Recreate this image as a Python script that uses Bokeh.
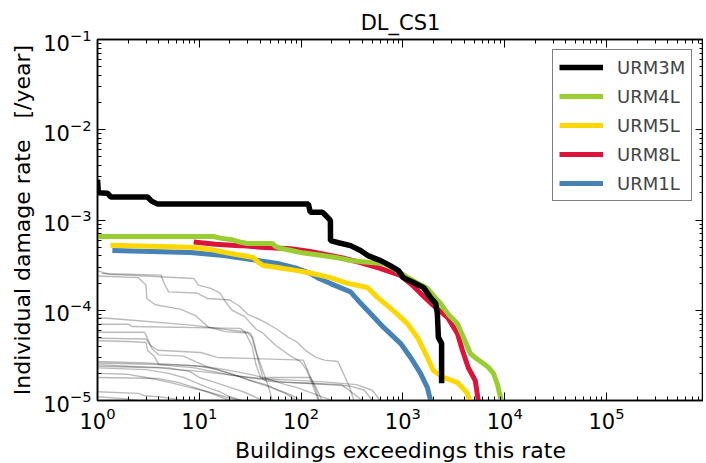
from bokeh.plotting import figure
from bokeh.models import LogAxis, FixedTicker, LogTickFormatter, CustomJSTickFormatter, Legend, LegendItem, Range1d
from bokeh.embed import file_html
from bokeh.resources import INLINE

# ---------------- data ----------------
title_text = "DL_CS1"
x_label = "Buildings exceedings this rate"
y_label = "Individual damage rate \u00a0 [/year]"

x_lim = (1.0, 8.97e5)
y_lim = (1e-5, 1e-1)
x_decades = [0, 1, 2, 3, 4, 5]
y_decades = [-5, -4, -3, -2, -1]

urm3m_x = [1.0, 1.02, 1.25, 1.35, 3.1, 3.4, 3.9, 118, 123, 162, 178, 194, 194.5, 233, 306, 383, 460, 605, 758, 906, 1010, 1270, 1600, 1870, 2100, 2180, 2230, 2400, 2400]
urm3m_y = [2.8e-3, 2.0e-3, 1.98e-3, 1.8e-3, 1.8e-3, 1.62e-3, 1.5e-3, 1.5e-3, 1.22e-3, 1.22e-3, 1.1e-3, 9.9e-4, 5.9e-4, 5.6e-4, 5.2e-4, 4.6e-4, 4.0e-4, 3.55e-4, 3.1e-4, 2.75e-4, 2.3e-4, 2.03e-4, 1.78e-4, 1.38e-4, 1.19e-4, 9.2e-5, 5.0e-5, 4.3e-5, 1.55e-5]

urm4l_x = [1.0, 13.8, 16, 21.7, 25, 29.7, 52, 56, 62.8, 80, 106, 150, 220, 306, 450, 646, 850, 1110, 1400, 1740, 2000, 2340, 2800, 3440, 4000, 4610, 5300, 6180, 7000, 7770, 8500, 9100, 9300]
urm4l_y = [6.56e-4, 6.56e-4, 6.3e-4, 6.0e-4, 5.7e-4, 5.5e-4, 5.5e-4, 5.1e-4, 4.85e-4, 4.6e-4, 4.3e-4, 4.1e-4, 3.85e-4, 3.56e-4, 3.4e-4, 3.3e-4, 2.8e-4, 2.31e-4, 2.0e-4, 1.74e-4, 1.45e-4, 1.19e-4, 9.0e-5, 7.1e-5, 4.8e-5, 3.3e-5, 2.9e-5, 2.57e-5, 2.3e-5, 1.99e-5, 1.5e-5, 1.08e-5, 1.0e-5]

urm5l_x = [1.34, 8.2, 12.9, 20.3, 34, 38, 42.7, 58.6, 92, 130, 194, 286, 448, 563, 806, 1110, 1390, 1740, 1990, 2500, 3440, 4310, 4510]
urm5l_y = [5.25e-4, 5.0e-4, 4.71e-4, 4.26e-4, 3.85e-4, 3.4e-4, 3.13e-4, 2.98e-4, 2.75e-4, 2.55e-4, 2.3e-4, 1.99e-4, 1.79e-4, 1.39e-4, 9.9e-5, 7.1e-5, 5.0e-5, 3.0e-5, 2.15e-5, 1.8e-5, 1.58e-5, 1.2e-5, 1.0e-5]

urm8l_x = [8.8, 14.4, 25, 40, 78.7, 123, 244, 383, 605, 947, 1200, 1490, 1990, 2750, 3440, 3850, 4380, 5140, 5500]
urm8l_y = [5.7e-4, 5.4e-4, 5.2e-4, 5.0e-4, 4.8e-4, 4.47e-4, 3.84e-4, 3.38e-4, 2.9e-4, 2.43e-4, 1.95e-4, 1.54e-4, 1.13e-4, 8.3e-5, 5.5e-5, 3.58e-5, 2.32e-5, 1.66e-5, 1.0e-5]

urm1l_x = [1.4, 8.2, 17.3, 37.3, 58.6, 92, 123, 150, 200, 306, 383, 480, 646, 947, 1190, 1490, 1740, 1870]
urm1l_y = [4.6e-4, 4.36e-4, 4.04e-4, 3.56e-4, 3.3e-4, 2.9e-4, 2.56e-4, 2.25e-4, 1.95e-4, 1.6e-4, 1.2e-4, 9.2e-5, 6.45e-5, 4.3e-5, 3.0e-5, 2.0e-5, 1.39e-5, 1.0e-5]

# background (grey) typologies
gray_x = [
    [1, 1.3, 3, 8.8, 9.8, 13, 16, 18, 21, 28, 36, 42, 56, 79, 99, 113, 129, 148],
    [1, 2.5, 3, 3.05, 3.7, 6.5, 9.2, 12.3, 18, 30, 33.5, 36.5, 39, 42, 48, 52],
    [1.1, 4.2, 4.6, 5.0, 9.5, 12, 20, 25, 30, 38, 48, 60, 75, 90, 110, 140, 170, 230, 260, 300, 330],
    [1, 2, 2.2, 25, 28, 33, 36, 40, 45, 60, 120, 250, 400],
    [1, 2.9, 3.0, 3.4, 4.0, 7, 9.2, 11.5, 20, 30, 50, 70, 90],
    [1, 2, 3, 3.1, 3.6, 4.0, 9, 12, 17, 21, 40, 110, 180, 350, 500, 600],
    [1, 3, 6, 10, 15, 20, 30, 45, 60, 80, 100],
    [1, 2, 4, 8, 12, 18, 25, 35, 50, 70, 90, 130, 200],
    [1, 2, 5, 8, 10, 14, 20, 27, 35, 42],
    [1, 3, 5, 7, 9, 12, 16, 20, 26],
    [1, 2, 4, 6, 10, 15, 22, 30, 45, 70, 110, 180, 300, 420, 500],
    [1, 2, 3, 5, 8, 12, 18, 25],
    [1, 4, 6, 8, 12, 16, 20],
    [1, 2.5, 3, 4, 5.5, 7],
    [1, 1.8, 2.5],
    [1, 1.8, 8.8, 30, 32, 37, 42, 124, 140, 160],
    [1, 3, 3.3, 3.9, 10.3, 15, 105, 124, 140, 150],
]
gray_y = [
    [2.75e-4, 2.5e-4, 2.4e-4, 2.25e-4, 1.9e-4, 1.75e-4, 1.55e-4, 1.25e-4, 1.0e-4, 8.5e-5, 6.2e-5, 5.6e-5, 4.1e-5, 3.1e-5, 2.7e-5, 2.2e-5, 1.5e-5, 1.0e-5],
    [2.4e-4, 2.3e-4, 1.9e-4, 1.35e-4, 1.15e-4, 1.03e-4, 8.7e-5, 6.5e-5, 5.8e-5, 5.6e-5, 5.0e-5, 3.4e-5, 2.7e-5, 2.15e-5, 1.4e-5, 1.0e-5],
    [2.55e-4, 2.45e-4, 1.9e-4, 1.6e-4, 1.55e-4, 1.35e-4, 1.3e-4, 1.1e-4, 9.0e-5, 8.0e-5, 7.0e-5, 6.0e-5, 5.0e-5, 4.5e-5, 3.6e-5, 3.0e-5, 2.8e-5, 2.7e-5, 2.0e-5, 1.4e-5, 1.0e-5],
    [7.0e-5, 7.0e-5, 6.6e-5, 6.3e-5, 5.8e-5, 4.0e-5, 2.5e-5, 1.8e-5, 1.65e-5, 1.6e-5, 1.55e-5, 1.5e-5, 1.0e-5],
    [5.7e-5, 5.7e-5, 5.3e-5, 3.8e-5, 3.2e-5, 3.1e-5, 2.7e-5, 2.4e-5, 2.0e-5, 1.7e-5, 1.4e-5, 1.2e-5, 1.0e-5],
    [4.6e-5, 4.5e-5, 4.4e-5, 3.6e-5, 3.1e-5, 2.5e-5, 2.3e-5, 2.15e-5, 2.0e-5, 1.9e-5, 1.75e-5, 1.65e-5, 1.6e-5, 1.5e-5, 1.3e-5, 1.0e-5],
    [2.7e-5, 2.6e-5, 2.5e-5, 2.4e-5, 2.2e-5, 2.0e-5, 1.7e-5, 1.5e-5, 1.3e-5, 1.15e-5, 1.0e-5],
    [2.6e-5, 2.55e-5, 2.5e-5, 2.45e-5, 2.35e-5, 2.2e-5, 2.05e-5, 1.9e-5, 1.7e-5, 1.5e-5, 1.4e-5, 1.2e-5, 1.0e-5],
    [2.5e-5, 2.4e-5, 2.3e-5, 2.1e-5, 1.8e-5, 1.6e-5, 1.4e-5, 1.25e-5, 1.1e-5, 1.0e-5],
    [2.3e-5, 2.2e-5, 2.0e-5, 1.8e-5, 1.6e-5, 1.4e-5, 1.25e-5, 1.1e-5, 1.0e-5],
    [2.4e-5, 2.35e-5, 2.3e-5, 2.2e-5, 2.1e-5, 2.0e-5, 1.9e-5, 1.8e-5, 1.7e-5, 1.6e-5, 1.55e-5, 1.5e-5, 1.45e-5, 1.3e-5, 1.0e-5],
    [2.0e-5, 1.95e-5, 1.8e-5, 1.6e-5, 1.4e-5, 1.25e-5, 1.1e-5, 1.0e-5],
    [1.8e-5, 1.75e-5, 1.6e-5, 1.45e-5, 1.25e-5, 1.1e-5, 1.0e-5],
    [1.25e-5, 1.2e-5, 1.12e-5, 1.1e-5, 1.05e-5, 1.0e-5],
    [1.1e-5, 1.05e-5, 1.0e-5],
    [8.3e-5, 7.9e-5, 6.8e-5, 5.7e-5, 5.5e-5, 3.1e-5, 1.8e-5, 1.8e-5, 1.4e-5, 1.0e-5],
    [4.9e-5, 4.8e-5, 4.1e-5, 3.6e-5, 3.4e-5, 3.0e-5, 2.8e-5, 1.8e-5, 1.3e-5, 1.0e-5],
]

series = [
    ("URM1L", urm1l_x, urm1l_y, "#4682B4"),
    ("URM8L", urm8l_x, urm8l_y, "#DC143C"),
    ("URM4L", urm4l_x, urm4l_y, "#9ACD32"),
    ("URM5L", urm5l_x, urm5l_y, "#FFD700"),
    ("URM3M", urm3m_x, urm3m_y, "#000000"),
]
legend_order = ["URM3M", "URM4L", "URM5L", "URM8L", "URM1L"]

# ---------------- figure ----------------
FONT = "DejaVu Sans"

p = figure(
    x_axis_type="log", y_axis_type="log",
    x_range=Range1d(*x_lim), y_range=Range1d(*y_lim),
    frame_width=606, frame_height=361,
    min_border_left=97, min_border_right=0, min_border_top=39, min_border_bottom=60,
    output_backend="svg", toolbar_location=None, title=title_text,
)
p.background_fill_color = "white"
p.border_fill_color = "white"
p.grid.visible = False
p.outline_line_color = "black"
p.outline_line_width = 1.5

p.title.text_font = FONT
p.title.text_font_size = "21px"
p.title.text_font_style = "normal"
p.title.align = "center"
p.title.text_color = "black"

def ticks(decades, lo, hi):
    major = [10.0 ** d for d in decades]
    minor = []
    for d in list(decades) + [decades[-1] + 1]:
        for m in range(2, 10):
            v = m * 10.0 ** d
            if lo <= v <= hi:
                minor.append(v)
    return major, minor

xmaj, xmin = ticks(x_decades, *x_lim)
ymaj, ymin = ticks(y_decades, *y_lim)

def style_axis(ax, show_labels):
    ax.major_tick_in = 8
    ax.major_tick_out = 0
    ax.minor_tick_in = 4
    ax.minor_tick_out = 0
    ax.axis_line_color = "black"
    ax.axis_line_width = 1.5
    ax.major_tick_line_color = "black"
    ax.minor_tick_line_color = "black"
    ax.major_tick_line_width = 1
    ax.minor_tick_line_width = 1
    ax.major_label_text_font = FONT
    ax.major_label_text_color = "black"
    ax.axis_label_text_font = FONT
    ax.axis_label_text_font_style = "normal"
    ax.axis_label_text_color = "black"
    if show_labels:
        ax.major_label_text_font_size = "21px"
        ax.major_label_standoff = 6
    else:
        ax.major_label_text_font_size = "1px"
        ax.major_label_standoff = 0

xa = p.xaxis[0]
xa.ticker = FixedTicker(ticks=xmaj, minor_ticks=xmin)
xa.formatter = LogTickFormatter()
style_axis(xa, True)
xa.axis_label = x_label
xa.axis_label_text_font_size = "22px"
xa.axis_label_standoff = 6

ya = p.yaxis[0]
ya.ticker = FixedTicker(ticks=ymaj, minor_ticks=ymin)
ya.formatter = LogTickFormatter()
style_axis(ya, True)
ya.axis_label = y_label
ya.axis_label_text_font_size = "22px"
ya.axis_label_standoff = 5

blank = CustomJSTickFormatter(code="return ''")
top = LogAxis(ticker=FixedTicker(ticks=xmaj, minor_ticks=xmin), formatter=blank)
style_axis(top, False)
p.add_layout(top, "above")
right = LogAxis(ticker=FixedTicker(ticks=ymaj, minor_ticks=ymin), formatter=blank)
style_axis(right, False)
p.add_layout(right, "right")

for gx, gy in zip(gray_x, gray_y):
    p.line(gx, gy, line_color="black", line_alpha=0.27, line_width=1.4)

renderers = {}
for name, xs, ys, col in series:
    renderers[name] = p.line(xs, ys, line_color=col, line_width=5.5 if name == "URM3M" else 5)

legend = Legend(
    items=[LegendItem(label=n, renderers=[renderers[n]]) for n in legend_order],
    location=(455, 199),
)
legend.border_line_color = "black"
legend.border_line_width = 1.5
legend.background_fill_alpha = 1.0
legend.label_text_font = FONT
legend.label_text_font_size = "18px"
legend.glyph_width = 44
legend.glyph_height = 22
legend.label_height = 22
legend.spacing = 7
legend.padding = 6
legend.label_standoff = 14
legend.margin = 0
p.add_layout(legend)

open("out.html", "w").write(file_html(p, INLINE))
